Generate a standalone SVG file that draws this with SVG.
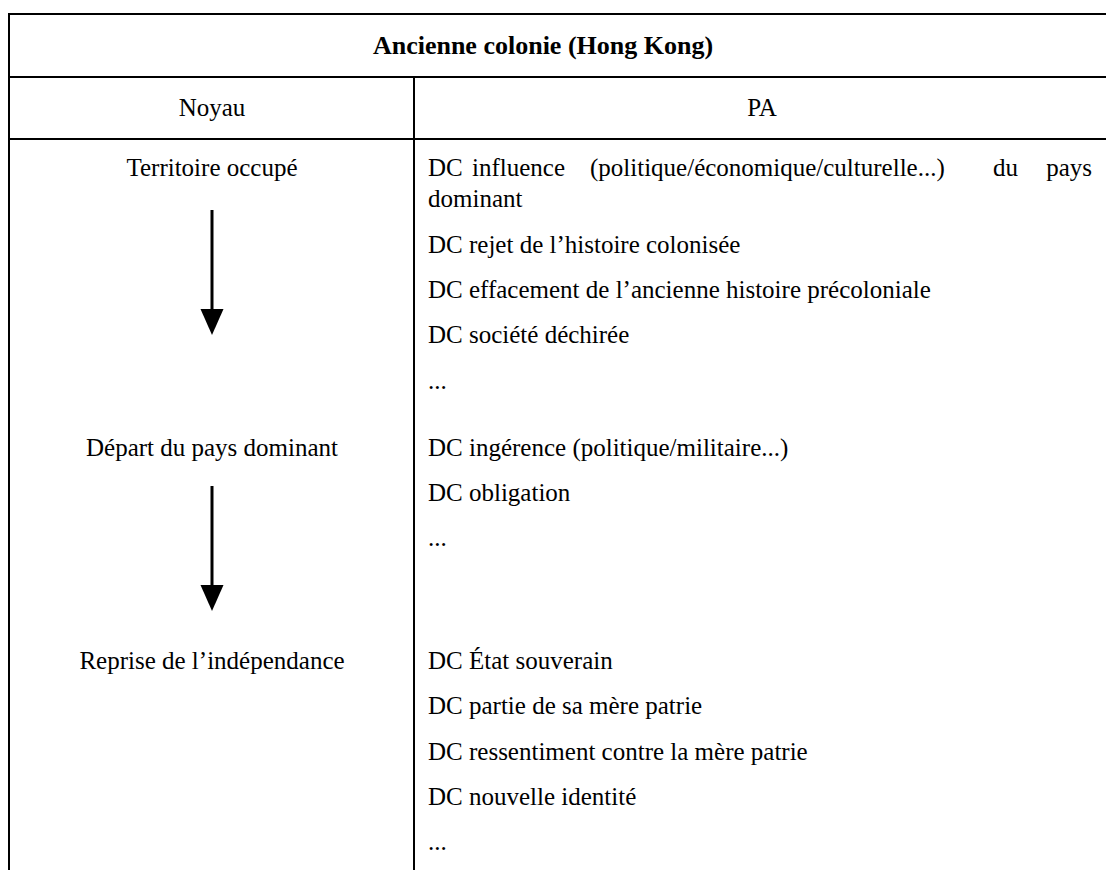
<svg xmlns="http://www.w3.org/2000/svg" width="1106" height="870" viewBox="0 0 1106 870">
<style>
.t{font-family:"Liberation Serif","Times New Roman",serif;font-size:25px;fill:#000}
.c{text-anchor:middle}
.b{font-weight:bold;font-size:26px}
.grid line{stroke:#000;stroke-width:2}
.arr{stroke:#000;stroke-width:3;fill:none}
</style>
<defs>
<marker id="ah" markerUnits="userSpaceOnUse" viewBox="0 -12 26 24" refX="0" refY="0" markerWidth="26" markerHeight="24" orient="auto">
<path d="M0,-11.5 L26,0 L0,11.5 z" fill="#000"/>
</marker>
</defs>
<rect width="1106" height="870" fill="#fff"/>
<g id="grid" class="grid">
<line x1="8" y1="14" x2="1106" y2="14"/>
<line x1="8" y1="77" x2="1106" y2="77"/>
<line x1="8" y1="139" x2="1106" y2="139"/>
<line x1="9" y1="13" x2="9" y2="870"/>
<line x1="414" y1="77" x2="414" y2="870"/>
</g>
<g id="title"><text class="t c b" x="543" y="54">Ancienne colonie (Hong Kong)</text></g>
<g id="head-noyau"><text class="t c" x="212" y="116">Noyau</text></g>
<g id="head-pa"><text class="t c" x="762" y="116">PA</text></g>
<g id="node-territoire"><text class="t c" x="212" y="176">Territoire occupé</text></g>
<g id="node-depart"><text class="t c" x="212" y="456">Départ du pays dominant</text></g>
<g id="node-reprise"><text class="t c" x="212" y="669">Reprise de l’indépendance</text></g>
<g id="pa-1">
<text class="t" y="176"><tspan x="428">DC</tspan><tspan x="472">influence</tspan><tspan x="590">(politique/économique/culturelle...)</tspan><tspan x="993">du</tspan><tspan x="1092" text-anchor="end">pays</tspan></text>
<text class="t" x="428" y="207">dominant</text>
<text class="t" x="428" y="253">DC rejet de l’histoire colonisée</text>
<text class="t" x="428" y="298">DC effacement de l’ancienne histoire précoloniale</text>
<text class="t" x="428" y="343">DC société déchirée</text>
<text class="t" x="428" y="389">...</text>
</g>
<g id="pa-2">
<text class="t" x="428" y="456">DC ingérence (politique/militaire...)</text>
<text class="t" x="428" y="501">DC obligation</text>
<text class="t" x="428" y="546">...</text>
</g>
<g id="pa-3">
<text class="t" x="428" y="669">DC État souverain</text>
<text class="t" x="428" y="714">DC partie de sa mère patrie</text>
<text class="t" x="428" y="760">DC ressentiment contre la mère patrie</text>
<text class="t" x="428" y="805">DC nouvelle identité</text>
<text class="t" x="428" y="850">...</text>
</g>
<g id="connectors">
<line class="arr" x1="212" y1="210" x2="212" y2="309" marker-end="url(#ah)"/>
<line class="arr" x1="212" y1="486" x2="212" y2="585" marker-end="url(#ah)"/>
</g>
</svg>
